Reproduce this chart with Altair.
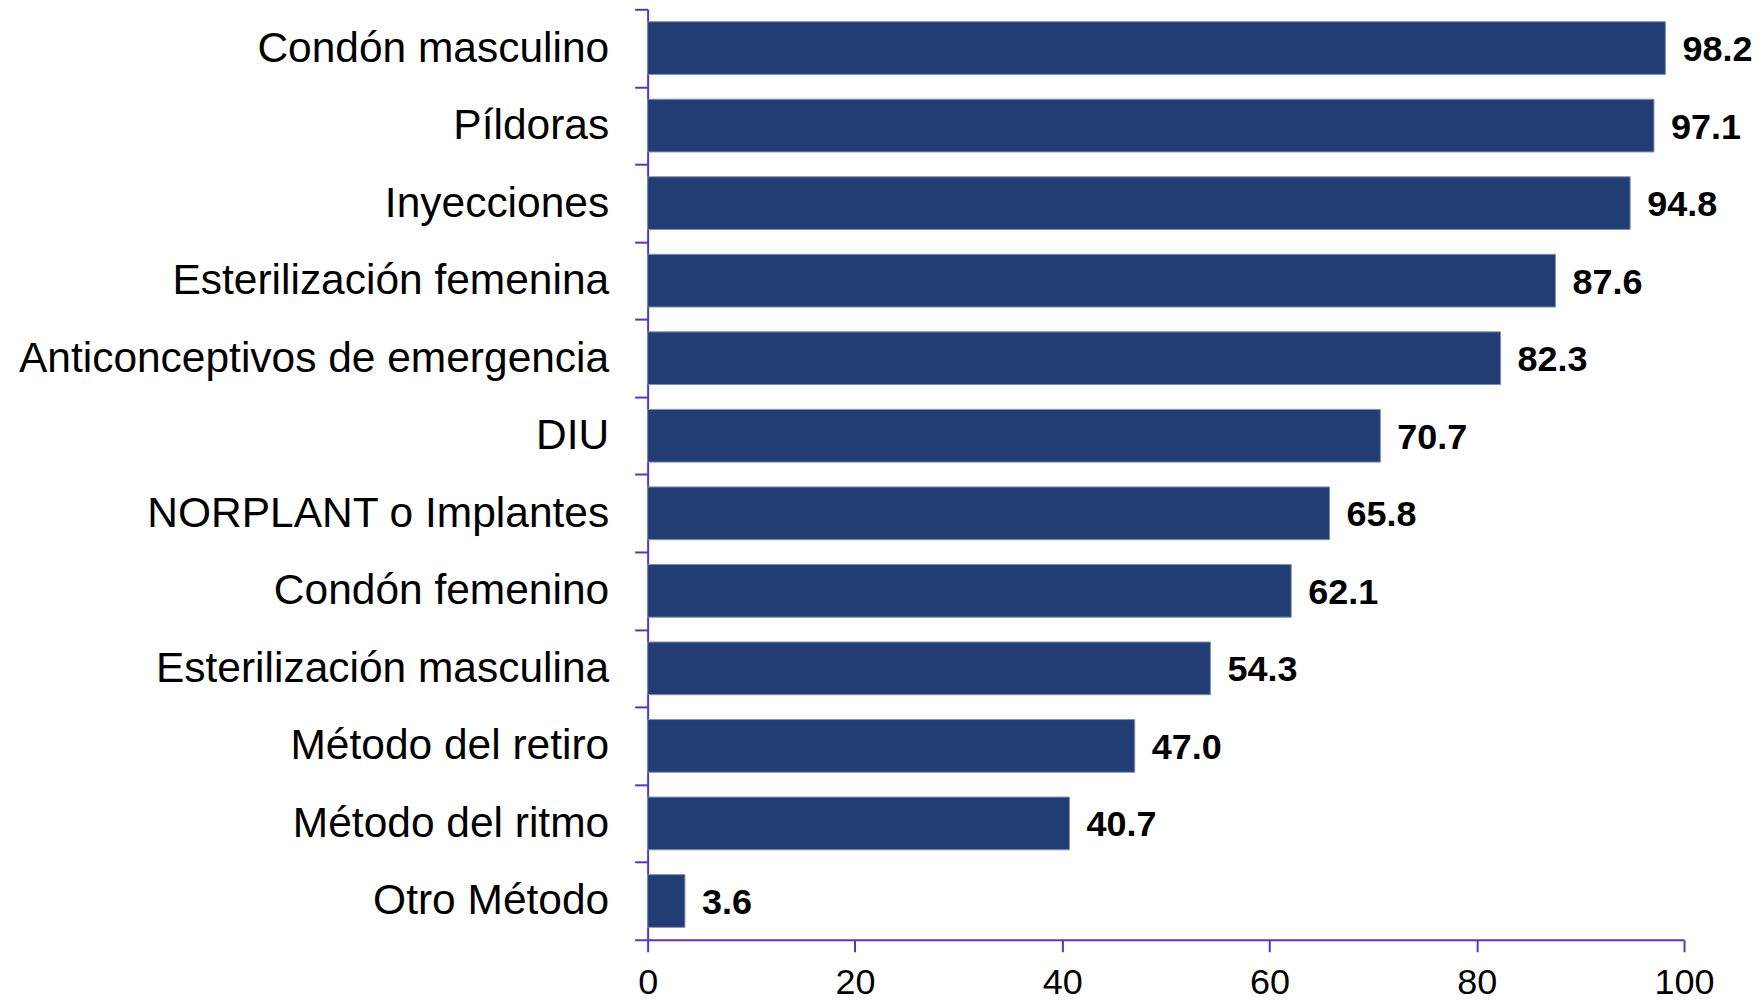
import altair as alt
import pandas as pd

categories = [
    "Condón masculino", "Píldoras", "Inyecciones", "Esterilización femenina",
    "Anticonceptivos de emergencia", "DIU", "NORPLANT o Implantes",
    "Condón femenino", "Esterilización masculina", "Método del retiro",
    "Método del ritmo", "Otro Método",
]
values = [98.2, 97.1, 94.8, 87.6, 82.3, 70.7, 65.8, 62.1, 54.3, 47.0, 40.7, 3.6]
x_ticks = [0, 20, 40, 60, 80, 100]

df = pd.DataFrame({"cat": categories, "val": values})
df["label"] = df["val"].map(lambda v: f"{v:.1f}")

AXIS_COLOR = "#5535D0"
BAR_COLOR = "#213D73"
FONT = "Liberation Sans"

y_enc = alt.Y(
    "cat:N", sort=categories, title=None,
    scale=alt.Scale(paddingInner=0, paddingOuter=0),
    axis=alt.Axis(
        domainColor=AXIS_COLOR, domainWidth=2, tickColor=AXIS_COLOR, tickWidth=2,
        tickSize=13, tickBand="extent", grid=False, labelPadding=26,
        labelFontSize=42.5, labelFont=FONT, labelColor="black", labelLimit=800,
    ),
)
x_enc = alt.X(
    "val:Q", title=None,
    scale=alt.Scale(domain=[0, 100], nice=False),
    axis=alt.Axis(
        values=x_ticks, domainColor=AXIS_COLOR, domainWidth=2, tickColor=AXIS_COLOR,
        tickWidth=2, tickSize=12, grid=False, labelFontSize=36, labelFont=FONT,
        labelColor="black", labelPadding=14, labelFlush=False,
    ),
)

bars = alt.Chart(df).mark_bar(
    color=BAR_COLOR, stroke="#8090B5", strokeWidth=1,
    height=alt.RelativeBandSize(0.68),
).encode(x=x_enc, y=y_enc)

text = alt.Chart(df).mark_text(
    align="left", baseline="middle", dx=17, dy=2, fontSize=36,
    fontWeight="bold", font=FONT, color="black",
).encode(x="val:Q", y=alt.Y("cat:N", sort=categories), text="label:N")

chart = (
    alt.layer(bars, text)
    .properties(
        width=1037, height=931,
        background="white",
        autosize=alt.AutoSizeParams(type="none"),
        padding={"left": 640, "top": 1, "right": 70, "bottom": 60},
    )
    .configure_axis(grid=False)
    .configure_view(stroke=None, strokeWidth=0)
)

chart.save("out.html", embed_options={"renderer": "svg", "actions": False})
